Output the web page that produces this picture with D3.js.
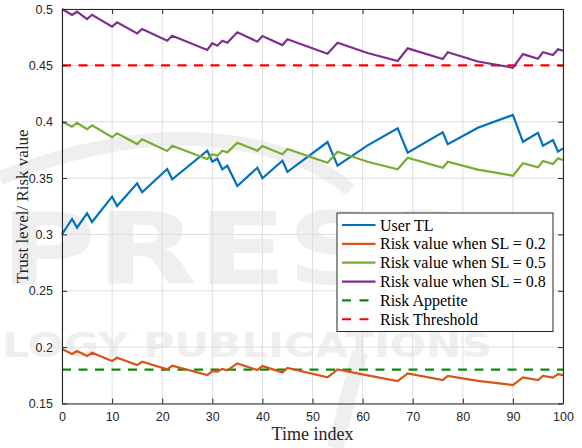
<!DOCTYPE html>
<html>
<head>
<meta charset="utf-8">
<script src="https://cdn.jsdelivr.net/npm/d3@7"></script>
<style>
  body { margin: 0; background: #fff; }
  svg { display: block; }
</style>
</head>
<body>
<script>
// vertices (time index)
const timeIdx = [0,2,3,5,6,10,11,15,16,21,22,29,30,31,32,33,35,39,40,44,45,53,55,61,67,69,76,77,83,90,92,95,96,98,99,100]
const userTL = [0.300,0.3137,0.306,0.3187,0.311,0.3335,0.3252,0.3453,0.3374,0.358,0.3489,0.3743,0.3645,0.3672,0.3578,0.361,0.343,0.3592,0.3498,0.3654,0.3556,0.382,0.361,0.379,0.3941,0.3725,0.3906,0.38,0.3947,0.406,0.3822,0.3902,0.3787,0.3838,0.3734,0.3764]
const riskSL02 = [0.1983,0.1939,0.1965,0.1921,0.195,0.1877,0.1906,0.1841,0.187,0.1803,0.1835,0.1752,0.1788,0.1782,0.1806,0.1794,0.1856,0.1797,0.1832,0.1776,0.1815,0.1732,0.1803,0.175,0.1699,0.1767,0.1708,0.1744,0.170,0.1664,0.1732,0.1708,0.1744,0.1729,0.1761,0.1752]
const riskSL05 = [0.400,0.3956,0.3991,0.3933,0.3968,0.3862,0.3897,0.3802,0.3844,0.374,0.3787,0.3669,0.3711,0.3698,0.3743,0.3728,0.3814,0.3743,0.3784,0.3711,0.3758,0.3636,0.3734,0.3645,0.3578,0.3681,0.3592,0.3645,0.3575,0.3521,0.3631,0.3595,0.3651,0.3625,0.3675,0.366]
const riskSL08 = [0.500,0.4947,0.4976,0.4911,0.4949,0.4843,0.4882,0.4784,0.4823,0.4719,0.4763,0.4636,0.4696,0.4674,0.4719,0.4701,0.4793,0.471,0.476,0.468,0.4731,0.4603,0.4701,0.461,0.4539,0.4651,0.4556,0.4616,0.4534,0.4479,0.46,0.4559,0.4616,0.4592,0.4642,0.463]
const riskAppetite = 0.18
const riskThreshold = 0.45

const xTicks = [0,10,20,30,40,50,60,70,80,90,100]
const yTicks = [0.15,0.2,0.25,0.3,0.35,0.4,0.45,0.5]
const yTickLabels = ['0.15','0.2','0.25','0.3','0.35','0.4','0.45','0.5']

const series = [
  {name: 'User TL', values: userTL, color: '#0072BD', dash: null},
  {name: 'Risk value when SL = 0.2', values: riskSL02, color: '#D95319', dash: null},
  {name: 'Risk value when SL = 0.5', values: riskSL05, color: '#77AC30', dash: null},
  {name: 'Risk value when SL = 0.8', values: riskSL08, color: '#7E2F8E', dash: null}
]
const refLines = [
  {name: 'Risk Appetite', value: riskAppetite, color: '#0a8a0a', dash: '9,7.5'},
  {name: 'Risk Threshold', value: riskThreshold, color: '#ff0000', dash: '9,7.5'}
]

const W = 582, H = 448
const margin = {top: 9, right: 19, bottom: 44.5, left: 62}
const width = W - margin.left - margin.right
const height = H - margin.top - margin.bottom
const axisColor = '#262626'

const svg = d3.select('body').append('svg')
    .attr('width', W)
    .attr('height', H)

// faint watermark of the source scan
const wm = svg.append('g').attr('fill', '#efefef').attr('font-family', 'DejaVu Sans, Liberation Sans, sans-serif').attr('font-weight', 'bold')
wm.append('path')
    .attr('d', 'M 0 178 Q 170 110 300 160 Q 330 172 350 190')
    .attr('fill', 'none').attr('stroke', '#efefef').attr('stroke-width', 14)
wm.append('path')
    .attr('d', 'M 360 352 L 335 448')
    .attr('fill', 'none').attr('stroke', '#efefef').attr('stroke-width', 16)
wm.append('text').attr('x', 0).attr('y', 284).attr('font-size', 100)
    .attr('textLength', 470).attr('lengthAdjust', 'spacingAndGlyphs').text('PRESS')
wm.append('text').attr('x', 2).attr('y', 357).attr('font-size', 33)
    .attr('textLength', 490).attr('lengthAdjust', 'spacingAndGlyphs').text('LOGY PUBLICATIONS')

const g = svg.append('g')
    .attr('transform', 'translate(' + margin.left + ',' + margin.top + ')')

const x = d3.scaleLinear().domain([0, 100]).range([0, width])
const y = d3.scaleLinear().domain([0.15, 0.5]).range([height, 0])

// grid
g.append('g').selectAll('line').data(xTicks).enter().append('line')
    .attr('x1', d => x(d)).attr('x2', d => x(d))
    .attr('y1', 0).attr('y2', height)
    .attr('stroke', '#dedede').attr('stroke-width', 1)
g.append('g').selectAll('line').data(yTicks).enter().append('line')
    .attr('y1', d => y(d)).attr('y2', d => y(d))
    .attr('x1', 0).attr('x2', width)
    .attr('stroke', '#dedede').attr('stroke-width', 1)

// reference lines
g.selectAll('.ref').data(refLines).enter().append('line')
    .attr('class', 'ref')
    .attr('x1', x(0)).attr('x2', x(100))
    .attr('y1', d => y(d.value)).attr('y2', d => y(d.value))
    .attr('stroke', d => d.color)
    .attr('stroke-width', 2.2)
    .attr('stroke-dasharray', d => d.dash)

// series
const line = d3.line()
    .x((d, i) => x(timeIdx[i]))
    .y(d => y(d))
g.selectAll('.series').data(series).enter().append('path')
    .attr('class', 'series')
    .attr('d', d => line(d.values))
    .attr('fill', 'none')
    .attr('stroke', d => d.color)
    .attr('stroke-width', 2.2)
    .attr('stroke-linejoin', 'miter')

// axes (box with inward ticks)
const tickFont = 'Liberation Sans, Arial, sans-serif'
const xAxis = g.append('g').attr('transform', 'translate(0,' + height + ')')
    .call(d3.axisBottom(x).tickValues(xTicks).tickSizeInner(-5).tickSizeOuter(0).tickPadding(9))
const xTop = g.append('g')
    .call(d3.axisTop(x).tickValues(xTicks).tickSizeInner(-5).tickSizeOuter(0).tickFormat(''))
const yAxis = g.append('g')
    .call(d3.axisLeft(y).tickValues(yTicks).tickSizeInner(-5).tickSizeOuter(0).tickPadding(9)
      .tickFormat((d, i) => yTickLabels[i]))
const yRight = g.append('g').attr('transform', 'translate(' + width + ',0)')
    .call(d3.axisRight(y).tickValues(yTicks).tickSizeInner(-5).tickSizeOuter(0).tickFormat(''))
;[xAxis, xTop, yAxis, yRight].forEach(a => {
  a.selectAll('path').attr('stroke', axisColor).attr('stroke-width', 1.1)
  a.selectAll('line').attr('stroke', axisColor)
  a.selectAll('text').attr('fill', axisColor).attr('font-family', tickFont).attr('font-size', 12.5)
})

// axis titles
svg.append('text')
    .attr('x', margin.left + width / 2).attr('y', 440)
    .attr('text-anchor', 'middle')
    .attr('font-family', 'Liberation Serif, Times New Roman, serif')
    .attr('font-size', 18)
    .attr('fill', axisColor)
    .text('Time index')
svg.append('text')
    .attr('transform', 'translate(28,' + (margin.top + height / 2) + ') rotate(-90)')
    .attr('text-anchor', 'middle')
    .attr('font-family', 'Liberation Serif, Times New Roman, serif')
    .attr('font-size', 17)
    .attr('fill', axisColor)
    .text('Trust level/ Risk value')

// legend
const legendItems = series.concat(refLines)
const lg = svg.append('g').attr('transform', 'translate(337,213)')
lg.append('rect')
    .attr('width', 216).attr('height', 118.5)
    .attr('fill', '#fff').attr('stroke', axisColor).attr('stroke-width', 1)
const row = lg.selectAll('.row').data(legendItems).enter().append('g')
    .attr('class', 'row')
    .attr('transform', (d, i) => 'translate(0,' + (12 + i * 18.85) + ')')
row.append('line')
    .attr('x1', 5).attr('x2', 38.5).attr('y1', 0).attr('y2', 0)
    .attr('stroke', d => d.color).attr('stroke-width', 2.2)
    .attr('stroke-dasharray', d => d.dash ? '9,8.5' : null)
row.append('text')
    .attr('x', 43).attr('y', 5.5)
    .attr('font-family', 'Liberation Serif, Times New Roman, serif')
    .attr('font-size', 16)
    .attr('fill', '#000')
    .text(d => d.name)
</script>
</body>
</html>
